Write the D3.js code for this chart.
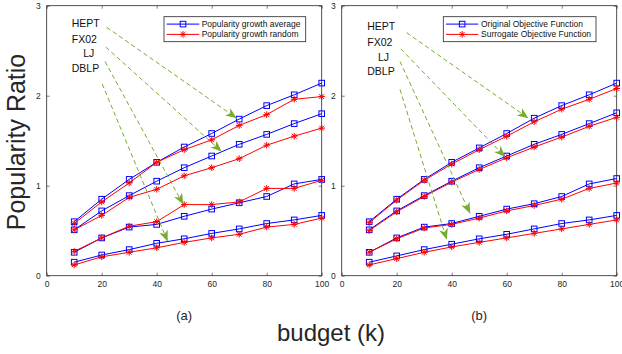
<!DOCTYPE html>
<html>
<head>
<meta charset="utf-8">
<script src="https://cdn.jsdelivr.net/npm/d3@7"></script>
<style>
  body { margin: 0; background: #fff; }
  text { font-family: "Liberation Sans", Arial, sans-serif; }
</style>
</head>
<body>
<svg id="chart" width="622" height="354"></svg>
<script>
// budget (k)
const budget = [10, 20, 30, 40, 50, 60, 70, 80, 90, 100];
const datasets = ['HEPT', 'FX02', 'LJ', 'DBLP'];

// panel (a): popularity growth average vs random
const heptAvg  = [0.60, 0.85, 1.07, 1.26, 1.43, 1.58, 1.74, 1.89, 2.01, 2.14];
const heptRand = [0.58, 0.82, 1.03, 1.26, 1.40, 1.51, 1.67, 1.79, 1.96, 1.99];
const fx02Avg  = [0.51, 0.72, 0.89, 1.05, 1.20, 1.33, 1.46, 1.57, 1.69, 1.80];
const fx02Rand = [0.51, 0.67, 0.87, 0.96, 1.11, 1.20, 1.30, 1.45, 1.55, 1.64];
const ljAvg    = [0.26, 0.42, 0.54, 0.57, 0.66, 0.74, 0.81, 0.88, 1.02, 1.07];
const ljRand   = [0.27, 0.42, 0.55, 0.60, 0.79, 0.79, 0.82, 0.97, 0.97, 1.06];
const dblpAvg  = [0.15, 0.23, 0.29, 0.36, 0.41, 0.47, 0.52, 0.58, 0.62, 0.67];
const dblpRand = [0.12, 0.21, 0.26, 0.31, 0.37, 0.42, 0.46, 0.54, 0.57, 0.64];

// panel (b): original vs surrogate objective
const heptOrig = [0.60, 0.85, 1.07, 1.26, 1.42, 1.58, 1.75, 1.89, 2.01, 2.14];
const heptSurr = [0.59, 0.84, 1.06, 1.24, 1.40, 1.55, 1.71, 1.85, 1.96, 2.08];
const fx02Orig = [0.51, 0.72, 0.89, 1.05, 1.20, 1.33, 1.46, 1.57, 1.69, 1.81];
const fx02Surr = [0.50, 0.71, 0.88, 1.04, 1.18, 1.31, 1.43, 1.54, 1.66, 1.76];
const ljOrig   = [0.26, 0.42, 0.54, 0.58, 0.66, 0.74, 0.80, 0.88, 1.02, 1.08];
const ljSurr   = [0.26, 0.41, 0.53, 0.57, 0.64, 0.72, 0.78, 0.85, 0.97, 1.03];
const dblpOrig = [0.15, 0.22, 0.29, 0.35, 0.41, 0.46, 0.52, 0.58, 0.62, 0.67];
const dblpSurr = [0.12, 0.19, 0.26, 0.32, 0.37, 0.42, 0.47, 0.52, 0.57, 0.62];

// annotation labels and arrows, in data units [x, y]
const labelsA = [[9.1, 2.80], [9.1, 2.63], [13.3, 2.47], [9.1, 2.30]];
const arrowsA = [[[21.8, 2.76], [69.1, 1.75]], [[21.5, 2.54], [63.6, 1.38]],
                 [[21.2, 2.38], [49.7, 0.79]], [[20.2, 2.13], [44.0, 0.38]]];
const labelsB = [[9.3, 2.77], [9.3, 2.59], [13.2, 2.43], [9.3, 2.27]];
const arrowsB = [[[23.6, 2.70], [67.9, 1.75]], [[21.5, 2.52], [59.4, 1.32]],
                 [[21.2, 2.38], [46.7, 0.69]], [[21.2, 2.07], [38.2, 0.40]]];

const xTicks = [0, 20, 40, 60, 80, 100];
const yTicks = [0, 1, 2, 3];

const BLUE = '#0000ff', RED = '#ff0000', GREEN = '#77ac30', AXIS = '#262626';

const svg = d3.select('#chart');

svg.append('defs').append('marker')
  .attr('id', 'arrowhead')
  .attr('markerUnits', 'userSpaceOnUse')
  .attr('viewBox', '-12 -6 14 12')
  .attr('markerWidth', 14).attr('markerHeight', 12)
  .attr('refX', 0).attr('refY', 0)
  .attr('orient', 'auto')
  .append('path')
  .attr('d', 'M0,0 L-11,-4.5 L-8,0 L-11,4.5 Z')
  .attr('fill', GREEN);

const yScale = d3.scaleLinear().domain([0, 3]).range([275.7, 5.7]);
const fmt = d3.format('d');

function asterisk(g, cx, cy, r) {
  const d = r * 0.72;
  g.append('path')
    .attr('d', `M${cx - r},${cy}H${cx + r}M${cx},${cy - r}V${cy + r}` +
      `M${cx - d},${cy - d}L${cx + d},${cy + d}M${cx - d},${cy + d}L${cx + d},${cy - d}`)
    .attr('stroke', RED).attr('stroke-width', 1).attr('fill', 'none');
}

function renderPanel(x0, x1, blueSeries, redSeries, labels, arrows, legendNames, legendBox, tag) {
  const xScale = d3.scaleLinear().domain([0, 100]).range([x0, x1]);
  const g = svg.append('g');
  const [yb, yt] = yScale.range();

  // axes with inward ticks
  g.append('g').attr('transform', `translate(0,${yb})`)
    .call(d3.axisBottom(xScale).tickValues(xTicks).tickFormat(fmt).tickSizeInner(-3).tickSizeOuter(0).tickPadding(5));
  g.append('g').attr('transform', `translate(0,${yt})`)
    .call(d3.axisTop(xScale).tickValues(xTicks).tickSizeInner(-3).tickSizeOuter(0).tickFormat(''));
  g.append('g').attr('transform', `translate(${x0},0)`)
    .call(d3.axisLeft(yScale).tickValues(yTicks).tickFormat(fmt).tickSizeInner(-3).tickSizeOuter(0).tickPadding(6));
  g.append('g').attr('transform', `translate(${x1},0)`)
    .call(d3.axisRight(yScale).tickValues(yTicks).tickSizeInner(-3).tickSizeOuter(0).tickFormat(''));
  g.selectAll('.domain').remove();
  g.selectAll('.tick line').attr('stroke', AXIS).attr('stroke-width', 0.6);
  g.selectAll('.tick text').attr('fill', AXIS).style('font-size', '8.5px')
    .style('font-family', '"Liberation Sans", Arial, sans-serif');
  g.append('rect').attr('x', x0).attr('y', yt).attr('width', x1 - x0).attr('height', yb - yt)
    .attr('fill', 'none').attr('stroke', AXIS).attr('stroke-width', 0.8);

  const line = d3.line().x((d, i) => xScale(budget[i])).y(d => yScale(d));

  blueSeries.forEach((s, k) => {
    const r = redSeries[k];
    g.append('path').datum(s).attr('d', line).attr('fill', 'none').attr('stroke', BLUE).attr('stroke-width', 1);
    g.selectAll(null).data(s).join('rect')
      .attr('x', (d, i) => xScale(budget[i]) - 2.8).attr('y', d => yScale(d) - 2.8)
      .attr('width', 5.6).attr('height', 5.6)
      .attr('fill', 'none').attr('stroke', BLUE).attr('stroke-width', 1);
    g.append('path').datum(r).attr('d', line).attr('fill', 'none').attr('stroke', RED).attr('stroke-width', 1);
    r.forEach((d, i) => asterisk(g, xScale(budget[i]), yScale(d), 3.3));
  });

  // dataset labels and dashed arrows
  labels.forEach((p, k) => {
    g.append('text').attr('x', xScale(p[0])).attr('y', yScale(p[1])).attr('dy', '0.36em')
      .attr('fill', '#111').style('font-size', '10.5px').text(datasets[k]);
  });
  arrows.forEach(([a, b]) => {
    g.append('line')
      .attr('x1', xScale(a[0])).attr('y1', yScale(a[1]))
      .attr('x2', xScale(b[0])).attr('y2', yScale(b[1]))
      .attr('stroke', GREEN).attr('stroke-width', 1).attr('stroke-dasharray', '4.5,3')
      .attr('marker-end', 'url(#arrowhead)');
  });

  // legend
  const [lx0, ly0, lx1, ly1, lineA, lineB, textX] = legendBox;
  const lg = g.append('g');
  lg.append('rect').attr('x', lx0).attr('y', ly0).attr('width', lx1 - lx0).attr('height', ly1 - ly0)
    .attr('fill', '#fff').attr('stroke', AXIS).attr('stroke-width', 0.8);
  const rows = [ly0 + 7.4, ly0 + 17.7];
  [BLUE, RED].forEach((c, k) => {
    lg.append('line').attr('x1', lineA).attr('x2', lineB).attr('y1', rows[k]).attr('y2', rows[k])
      .attr('stroke', c).attr('stroke-width', 1);
    const mx = (lineA + lineB) / 2;
    if (k === 0) {
      lg.append('rect').attr('x', mx - 2.8).attr('y', rows[k] - 2.8).attr('width', 5.6).attr('height', 5.6)
        .attr('fill', 'none').attr('stroke', BLUE).attr('stroke-width', 1);
    } else {
      asterisk(lg, mx, rows[k], 3.3);
    }
    lg.append('text').attr('x', textX).attr('y', rows[k]).attr('dy', '0.35em')
      .attr('fill', '#111').style('font-size', '8.5px').text(legendNames[k]);
  });

  svg.append('text').attr('x', (x0 + x1) / 2).attr('y', 320).attr('text-anchor', 'middle')
    .attr('fill', AXIS).style('font-size', '13px').text(tag);
}

renderPanel(46.7, 321.7,
  [heptAvg, fx02Avg, ljAvg, dblpAvg], [heptRand, fx02Rand, ljRand, dblpRand],
  labelsA, arrowsA, ['Popularity growth average', 'Popularity growth random'],
  [164, 16.7, 305.7, 41.7, 166.7, 199.3, 201.7], '(a)');

renderPanel(341.7, 616.7,
  [heptOrig, fx02Orig, ljOrig, dblpOrig], [heptSurr, fx02Surr, ljSurr, dblpSurr],
  labelsB, arrowsB, ['Original Objective Function', 'Surrogate Objective Function'],
  [443.3, 16.7, 596, 41.7, 446, 478.3, 481], '(b)');

svg.append('text').attr('transform', 'translate(25,142) rotate(-90)').attr('text-anchor', 'middle')
  .attr('fill', AXIS).style('font-size', '25px').text('Popularity Ratio');
svg.append('text').attr('x', 331).attr('y', 341).attr('text-anchor', 'middle')
  .attr('fill', AXIS).style('font-size', '24px').text('budget (k)');
</script>
</body>
</html>
